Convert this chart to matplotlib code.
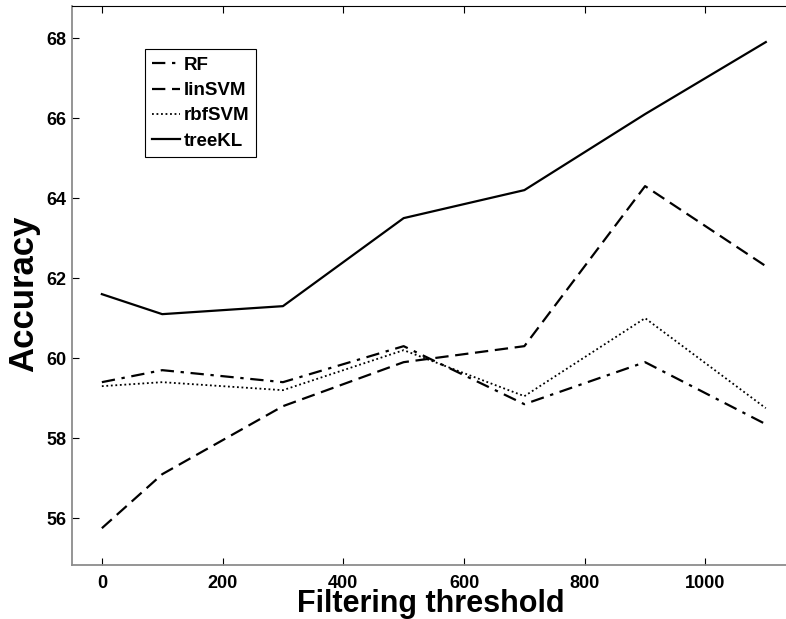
import matplotlib.pyplot as plt

# Accuracy vs. filtering threshold
thresholds = [0, 100, 300, 500, 700, 900, 1100]
rf = [59.4, 59.7, 59.4, 60.3, 58.85, 59.9, 58.35]
lin_svm = [55.75, 57.1, 58.8, 59.9, 60.3, 64.3, 62.3]
rbf_svm = [59.3, 59.4, 59.2, 60.2, 59.05, 61.0, 58.75]
tree_kl = [61.6, 61.1, 61.3, 63.5, 64.2, 66.1, 67.9]

xticks = [0, 200, 400, 600, 800, 1000]
yticks = [56, 58, 60, 62, 64, 66, 68]

plt.rcParams['font.family'] = ['Liberation Sans', 'DejaVu Sans']
plt.rcParams['font.weight'] = 'bold'

fig = plt.figure(figsize=(7.86, 6.19), dpi=100)
# right edge of the axes sits just past the image border, like the original
ax = fig.add_axes([0.0912, 0.0872, 0.9215, 0.903])

ax.plot(thresholds, rf, color='black', lw=1.6, linestyle=(0, (6, 3, 1.5, 3)), label='RF')
ax.plot(thresholds, lin_svm, color='black', lw=1.6, linestyle=(0, (6, 3)), label='linSVM')
ax.plot(thresholds, rbf_svm, color='black', lw=1.3, linestyle=(0, (1, 1.5)), label='rbfSVM')
ax.plot(thresholds, tree_kl, color='black', lw=1.6, linestyle='-', label='treeKL')

ax.set_xlim(-50, 1150)
ax.set_ylim(54.83, 68.8)
ax.set_xticks(xticks)
ax.set_yticks(yticks)
ax.tick_params(direction='in', length=5, width=0.8, labelsize=13, top=True, right=False)
ax.tick_params(axis='x', pad=7.5)
ax.tick_params(axis='y', pad=4)

ax.spines['left'].set_color('#8c8c8c')
ax.spines['bottom'].set_color('#8c8c8c')
ax.spines['left'].set_linewidth(1.3)
ax.spines['bottom'].set_linewidth(1.3)
ax.spines['top'].set_color('black')
ax.spines['right'].set_visible(False)

ax.set_ylabel('Accuracy', fontsize=25, fontweight='bold')
ax.yaxis.set_label_coords(-0.044, 0.486)
ax.set_xlabel('Filtering threshold', fontsize=22, fontweight='bold', va='baseline')
ax.xaxis.set_label_coords(0.496, -0.0841)

leg = ax.legend(loc='upper left', bbox_to_anchor=(0.101, 0.923), borderaxespad=0,
                fontsize=13.5, handlelength=1.5, handletextpad=0.15, labelspacing=0.44,
                fancybox=False, framealpha=1, edgecolor='black', borderpad=0.4)
leg.get_frame().set_linewidth(0.8)

fig.savefig('out.png', dpi=100)
